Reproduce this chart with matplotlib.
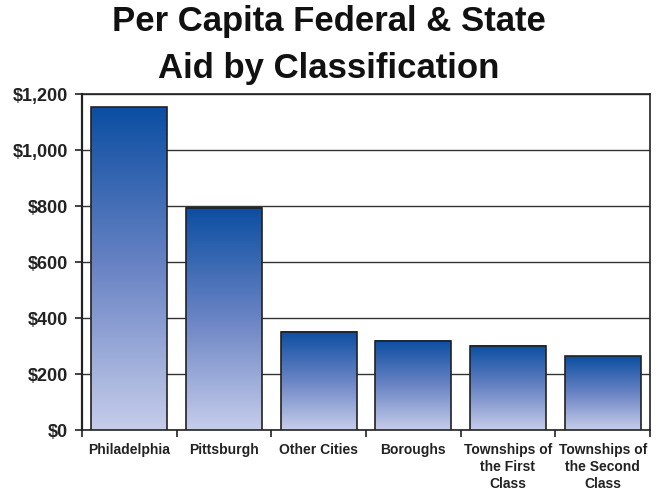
import numpy as np
import matplotlib.pyplot as plt
from matplotlib.colors import LinearSegmentedColormap
from matplotlib.ticker import FuncFormatter

categories = ['Philadelphia', 'Pittsburgh', 'Other Cities', 'Boroughs',
              'Townships of\nthe First\nClass', 'Townships of\nthe Second\nClass']
aid = [1153, 793, 350, 318, 301, 264]
yticks = [0, 200, 400, 600, 800, 1000, 1200]
title_lines = ['Per Capita Federal & State', 'Aid by Classification']

plt.rcParams['font.family'] = 'Liberation Sans'
plt.rcParams['font.weight'] = 'bold'

fig = plt.figure(figsize=(6.58, 4.95), dpi=100)
ax = fig.add_axes([0.1246, 0.1313, 0.8632, 0.6788])

# vertical fade: light lavender at the base, deep blue at the top
cmap = LinearSegmentedColormap.from_list('fade', ['#C6CDEA', '#6A84C4', '#0B4EA2'])
grad = np.linspace(0, 1, 256).reshape(-1, 1)

x = np.arange(len(categories))
width = 0.8
for xi, h in zip(x, aid):
    ax.imshow(grad, cmap=cmap, origin='lower', aspect='auto', zorder=3,
              extent=(xi - width / 2, xi + width / 2, 0, h))
ax.bar(x, aid, width=width, facecolor='none', edgecolor='#222222',
       linewidth=1.2, zorder=4)

ax.set_xlim(-0.5, len(categories) - 0.5)
ax.set_ylim(0, 1200)
ax.set_yticks(yticks)
ax.yaxis.set_major_formatter(FuncFormatter(lambda v, p: '${:,.0f}'.format(v)))
ax.tick_params(axis='y', labelsize=13, length=5, width=1.2, pad=5, colors='#222222')
ax.grid(axis='y', color='#333333', linewidth=1.0, zorder=1)

# category labels at the centres, tick marks on the boundaries
ax.set_xticks(x)
ax.set_xticklabels(categories, fontsize=10, linespacing=1.3)
ax.tick_params(axis='x', which='major', length=0, pad=9, colors='#222222')
ax.set_xticks(np.arange(len(categories) + 1) - 0.5, minor=True)
ax.tick_params(axis='x', which='minor', length=5, width=1.2, color='#222222')

for s in ax.spines.values():
    s.set_color('#222222')
    s.set_linewidth(1.2)
ax.spines['left'].set_linewidth(1.6)

# two-line title, one baseline per line
for yy, line in zip([0.9364, 0.8424], title_lines):
    fig.text(0.5, yy, line, ha='center', va='baseline', fontsize=25,
             fontweight='bold', color='#111111')

fig.savefig('out.png', dpi=100)
